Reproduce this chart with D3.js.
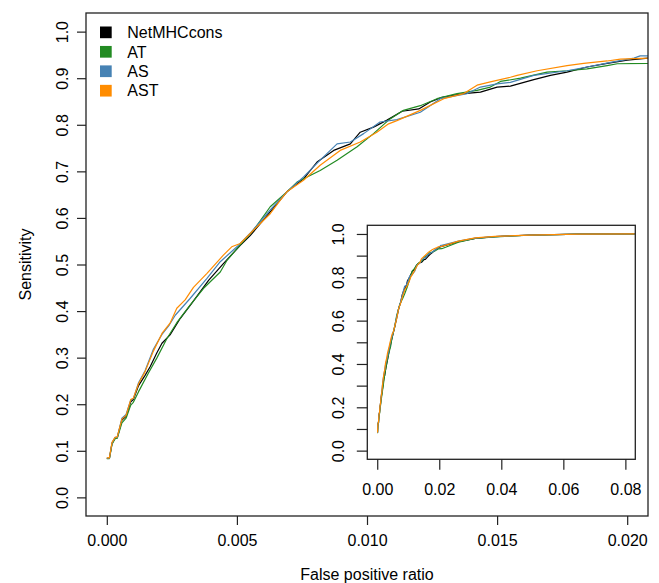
<!DOCTYPE html>
<html>
<head>
<meta charset="utf-8">
<script src="https://cdn.jsdelivr.net/npm/d3@7"></script>
<style>
  body { margin: 0; background: #fff; }
  text { font-family: "Liberation Sans", Arial, Helvetica, sans-serif; }
</style>
</head>
<body>
<svg id="chart"></svg>
<script>
const width = 659;
const height = 583;

// series names and colours (legend order = drawing order)
const seriesNames = ["NetMHCcons", "AT", "AS", "AST"];
const seriesColors = ["black", "#228B22", "#4682B4", "#FF8C00"];

// ROC points: [false positive ratio, sensitivity]
const netmhccons = [[0,0.084],[0.0001,0.084],[0.0002,0.116],[0.00032,0.128],[0.0004,0.128],[0.00058,0.166],[0.00074,0.174],[0.00092,0.205],[0.00102,0.21],[0.00122,0.24],[0.00147,0.262],[0.00167,0.281],[0.00192,0.31],[0.00212,0.331],[0.00243,0.349],[0.00282,0.384],[0.00327,0.417],[0.00391,0.466],[0.00448,0.502],[0.00513,0.541],[0.00551,0.562],[0.00628,0.613],[0.00692,0.656],[0.00756,0.684],[0.00808,0.72],[0.00872,0.745],[0.00936,0.759],[0.00974,0.784],[0.01025,0.795],[0.01077,0.81],[0.01135,0.829],[0.01199,0.834],[0.01243,0.849],[0.01288,0.859],[0.01372,0.867],[0.01436,0.87],[0.015,0.881],[0.01551,0.883],[0.01641,0.897],[0.01705,0.906],[0.01769,0.913],[0.01846,0.924],[0.01923,0.932],[0.02,0.939],[0.0208,0.943],
  [0.0262,0.965],[0.0316,0.98],[0.038,0.988],[0.049,0.995],[0.065,0.999],[0.083,1.0]];
const at = [[0,0.083],[0.0001,0.083],[0.0002,0.114],[0.00032,0.126],[0.0004,0.127],[0.00058,0.16],[0.00074,0.17],[0.00092,0.198],[0.00102,0.204],[0.00122,0.227],[0.0016,0.267],[0.00192,0.299],[0.0023,0.34],[0.00269,0.375],[0.0032,0.413],[0.00372,0.449],[0.00436,0.484],[0.00462,0.509],[0.005,0.534],[0.00564,0.574],[0.00628,0.624],[0.00692,0.656],[0.00731,0.677],[0.0082,0.702],[0.00885,0.724],[0.00962,0.753],[0.01025,0.781],[0.01083,0.81],[0.0114,0.831],[0.01205,0.841],[0.01269,0.856],[0.01346,0.867],[0.01423,0.874],[0.01474,0.881],[0.01513,0.893],[0.0159,0.9],[0.01692,0.913],[0.01769,0.916],[0.01846,0.92],[0.01923,0.927],[0.01962,0.931],[0.0208,0.932],
  [0.0262,0.962],[0.0316,0.979],[0.038,0.987],[0.049,0.994],[0.065,0.999],[0.083,1.0]];
const as = [[0,0.084],[0.0001,0.084],[0.0002,0.117],[0.00032,0.129],[0.0004,0.129],[0.00058,0.17],[0.00074,0.178],[0.00092,0.209],[0.00102,0.212],[0.00122,0.246],[0.00147,0.272],[0.00179,0.318],[0.00212,0.35],[0.0024,0.37],[0.00263,0.391],[0.0032,0.427],[0.00385,0.47],[0.00436,0.506],[0.005,0.538],[0.00551,0.567],[0.00628,0.617],[0.00692,0.656],[0.00756,0.688],[0.0082,0.724],[0.00885,0.759],[0.00936,0.763],[0.00987,0.781],[0.0105,0.806],[0.01115,0.811],[0.01205,0.827],[0.01282,0.856],[0.01385,0.867],[0.01436,0.881],[0.015,0.888],[0.01551,0.891],[0.01641,0.906],[0.01769,0.916],[0.01846,0.924],[0.01936,0.934],[0.02026,0.943],[0.0205,0.948],[0.0208,0.948],
  [0.0262,0.967],[0.0316,0.981],[0.038,0.988],[0.049,0.995],[0.065,0.999],[0.083,1.0]];
const ast = [[0,0.085],[0.0001,0.085],[0.0002,0.118],[0.00032,0.129],[0.0004,0.13],[0.00058,0.168],[0.00074,0.176],[0.00092,0.21],[0.00102,0.213],[0.00122,0.244],[0.00147,0.27],[0.00179,0.314],[0.00212,0.352],[0.00243,0.374],[0.00269,0.406],[0.00301,0.424],[0.00333,0.451],[0.00385,0.481],[0.00448,0.52],[0.0048,0.538],[0.00513,0.545],[0.00577,0.581],[0.00628,0.609],[0.00667,0.638],[0.00692,0.656],[0.00756,0.681],[0.0082,0.713],[0.00897,0.745],[0.00974,0.763],[0.01038,0.784],[0.01083,0.802],[0.01115,0.809],[0.01205,0.831],[0.01295,0.856],[0.01372,0.867],[0.01423,0.885],[0.01474,0.892],[0.01551,0.902],[0.01577,0.906],[0.01654,0.916],[0.01769,0.927],[0.01833,0.932],[0.01923,0.937],[0.01974,0.941],[0.0208,0.943],
  [0.0262,0.967],[0.0316,0.982],[0.038,0.989],[0.049,0.995],[0.065,0.999],[0.083,1.0]];
const seriesData = [netmhccons, at, as, ast];

// tick values
const mainXTicks = [0, 0.005, 0.010, 0.015, 0.020];
const mainYTicks = [0, 0.1, 0.2, 0.3, 0.4, 0.5, 0.6, 0.7, 0.8, 0.9, 1.0];
const insetXTicks = [0, 0.02, 0.04, 0.06, 0.08];
const insetYTicks = [0, 0.1, 0.2, 0.3, 0.4, 0.5, 0.6, 0.7, 0.8, 0.9, 1.0];

const fontSize = "16px";

let svg = d3.select("#chart")
  .attr("width", width)
  .attr("height", height);

svg.append("rect").attr("width", width).attr("height", height).style("fill", "white");

// main panel
const x = d3.scaleLinear().domain([-0.0008, 0.0208]).range([86, 648]);
const y = d3.scaleLinear().domain([-0.04, 1.04]).range([516, 13]);

// inset panel
const xi = d3.scaleLinear().domain([-0.0032, 0.0832]).range([367.3, 635.3]);
const yi = d3.scaleLinear().domain([-0.04, 1.04]).range([459.3, 225.3]);

function drawPanel(sx, sy, xTicks, yTicks, xFmt, yFmt, opt) {
  const [x0, x1] = sx.range();
  const [y0, y1] = sy.range();
  const clipId = "clip" + opt.id;
  svg.append("clipPath").attr("id", clipId)
    .append("rect")
    .attr("x", x0).attr("y", y1)
    .attr("width", x1 - x0).attr("height", y0 - y1);

  svg.append("rect")
    .attr("x", x0).attr("y", y1)
    .attr("width", x1 - x0).attr("height", y0 - y1)
    .style("fill", "white");

  const line = d3.line()
    .x(d => sx(d[0]))
    .y(d => sy(d[1]));

  seriesData.forEach((data, i) => {
    svg.append("path")
      .attr("d", line(data))
      .attr("clip-path", `url(#${clipId})`)
      .style("fill", "none")
      .style("stroke", seriesColors[i])
      .style("stroke-width", 1.2)
      .style("stroke-linejoin", "round");
  });

  svg.append("rect")
    .attr("x", x0).attr("y", y1)
    .attr("width", x1 - x0).attr("height", y0 - y1)
    .style("fill", "none")
    .style("stroke", "#222")
    .style("stroke-width", 1.3);

  // x axis
  const gx = svg.append("g")
    .attr("transform", `translate(0,${y0})`)
    .call(d3.axisBottom(sx).tickValues(xTicks).tickFormat(xFmt)
      .tickSize(opt.tick).tickPadding(opt.xPad));
  gx.select(".domain").remove();

  // y axis, labels turned as in R
  const gy = svg.append("g")
    .attr("transform", `translate(${x0},0)`)
    .call(d3.axisLeft(sy).tickValues(yTicks).tickFormat(yFmt).tickSize(opt.tick));
  gy.select(".domain").remove();
  gy.selectAll("text")
    .attr("x", null)
    .attr("dy", "0.36em")
    .attr("text-anchor", "middle")
    .attr("transform", `translate(${-opt.yLab},0) rotate(-90)`);

  [gx, gy].forEach(g => {
    g.selectAll("line").style("stroke", "#222").style("stroke-width", 1.2);
    g.selectAll("text").style("font-size", fontSize).style("fill", "black")
      .style("font-family", "'Liberation Sans', Arial, sans-serif");
  });
}

drawPanel(x, y, mainXTicks, mainYTicks, d3.format(".3f"), d3.format(".1f"),
  { id: "main", tick: 9, xPad: 9.5, yLab: 24 });

drawPanel(xi, yi, insetXTicks, insetYTicks, d3.format(".2f"),
  d => (Math.round(d * 10) % 2 === 0 ? d3.format(".1f")(d) : ""),
  { id: "inset", tick: 10.5, xPad: 13.5, yLab: 29 });

// axis titles
svg.append("text")
  .attr("x", 367).attr("y", 579.5)
  .attr("text-anchor", "middle")
  .style("font-size", fontSize)
  .text("False positive ratio");

svg.append("text")
  .attr("transform", "translate(25,264.5) rotate(-90)")
  .attr("dy", "0.36em")
  .attr("text-anchor", "middle")
  .style("font-size", fontSize)
  .text("Sensitivity");

// legend
const legend = svg.append("g");
seriesNames.forEach((name, i) => {
  const cy = 32.3 + i * 19.45;
  legend.append("rect")
    .attr("x", 100).attr("y", cy - 5.8)
    .attr("width", 11.7).attr("height", 11.7)
    .style("fill", seriesColors[i]);
  legend.append("text")
    .attr("x", 127.3).attr("y", cy)
    .attr("dy", "0.36em")
    .style("font-size", fontSize)
    .text(name);
});
</script>
</body>
</html>
